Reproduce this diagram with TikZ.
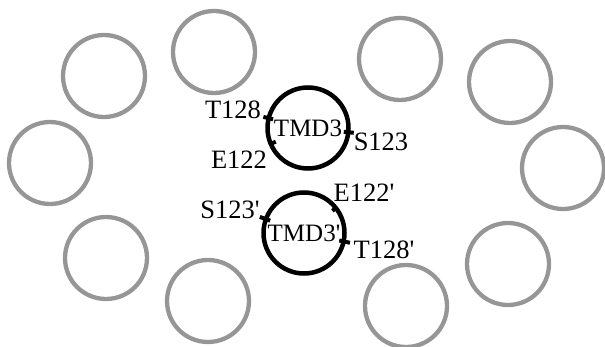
\documentclass[tikz,border=0pt]{standalone}
\usepackage{fontspec}
\setmainfont{Liberation Serif}
\usetikzlibrary{calc}
\definecolor{ringgray}{RGB}{150,150,150}
\tikzset{
  ring/.style={circle, draw=ringgray, line width=4.3pt, minimum size=82pt, inner sep=0pt},
  tmd/.style={circle, draw=black, line width=4.5pt, minimum size=81pt, inner sep=0pt, font=\fontsize{25}{25}\selectfont},
  res/.style={inner sep=0pt, font=\fontsize{26.5}{26.5}\selectfont},
  tickmark/.style={line width=4pt, black}
}
\newcommand{\pr}{\textquotesingle}
\begin{document}
\begin{tikzpicture}[x=1pt,y=-1pt]
\useasboundingbox (0,0) rectangle (605,347);
% gray rings
\node[ring] (g1) at (104,76) {};
\node[ring] (g2) at (214,52) {};
\node[ring] (g3) at (50,163) {};
\node[ring] (g4) at (106,258) {};
\node[ring] (g5) at (208,301) {};
\node[ring] (g6) at (400,59) {};
\node[ring] (g7) at (510,82) {};
\node[ring] (g8) at (563,168) {};
\node[ring] (g9) at (508,264) {};
\node[ring] (g10) at (406,306) {};
% TMD rings
\node[tmd] (t1) at (308,128) {TMD3};
\node[tmd] (t2) at (304,233) {TMD3\pr};
% tick marks (angles measured with y pointing down)
\draw[tickmark] ($(t1)+(-166:36)$) -- ($(t1)+(-166:46)$);
\draw[tickmark] ($(t1)+(-203:35)$) -- ($(t1)+(-203:42)$);
\draw[tickmark] ($(t1)+(6:36)$) -- ($(t1)+(6:46)$);
\draw[tickmark] ($(t2)+(-160:36)$) -- ($(t2)+(-160:47)$);
\draw[tickmark] ($(t2)+(-38:36)$) -- ($(t2)+(-38:41)$);
\draw[tickmark] ($(t2)+(12:36)$) -- ($(t2)+(12:47)$);
% labels
\node[res] (l1) at (233,110) {T128};
\node[res] (l2) at (239,160) {E122};
\node[res] (l3) at (381,142) {S123};
\node[res] (l4) at (364,193) {E122\pr};
\node[res] (l5) at (230,210) {S123\pr};
\node[res] (l6) at (384,250) {T128\pr};
\end{tikzpicture}
\end{document}
